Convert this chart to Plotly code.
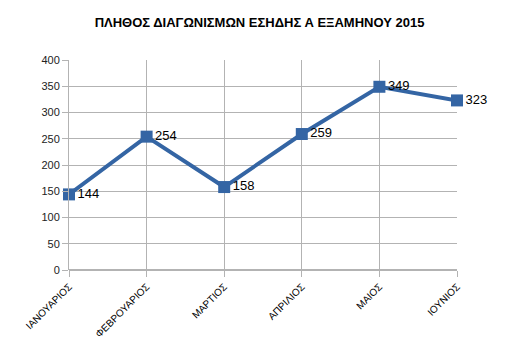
import plotly.graph_objects as go

months = ["ΙΑΝΟΥΑΡΙΟΣ", "ΦΕΒΡΟΥΑΡΙΟΣ", "ΜΑΡΤΙΟΣ", "ΑΠΡΙΛΙΟΣ", "ΜΑΙΟΣ", "ΙΟΥΝΙΟΣ"]
values = [144, 254, 158, 259, 349, 323]
title = "ΠΛΗΘΟΣ ΔΙΑΓΩΝΙΣΜΩΝ ΕΣΗΔΗΣ Α ΕΞΑΜΗΝΟΥ 2015"

fig = go.Figure()
fig.add_trace(go.Scatter(
    x=months, y=values, mode="lines+markers+text",
    line=dict(color="#3465a4", width=4),
    marker=dict(symbol="square", size=12, color="#3465a4"),
    text=[str(v) for v in values], textposition="middle right",
    textfont=dict(family="Liberation Sans, Arial, sans-serif", size=13, color="#000000"),
    cliponaxis=False, showlegend=False,
))

fig.update_layout(
    width=519, height=351,
    margin=dict(l=69, r=62, t=60, b=81),
    paper_bgcolor="white", plot_bgcolor="white",
    title=dict(text="<b>" + title + "</b>", x=0.5, xanchor="center", y=0.935, yanchor="middle",
               font=dict(family="Liberation Sans, Arial, sans-serif", size=13, color="#000000")),
    font=dict(family="Liberation Sans, Arial, sans-serif"),
)
fig.update_xaxes(
    range=[0, 5], showgrid=True, gridcolor="#b3b3b3", gridwidth=1,
    showline=False, ticks="outside", ticklen=6, tickcolor="#b3b3b3",
    tickangle=-45, tickfont=dict(size=10, color="#000000"), zeroline=False,
)
fig.update_yaxes(
    range=[0, 400], dtick=50, showgrid=True, gridcolor="#b3b3b3", gridwidth=1,
    showline=True, linecolor="#b3b3b3", ticks="outside", ticklen=6, tickcolor="#b3b3b3",
    tickfont=dict(size=11, color="#222222"), zeroline=True, zerolinecolor="#b3b3b3",
)

fig.write_html("out.html")
